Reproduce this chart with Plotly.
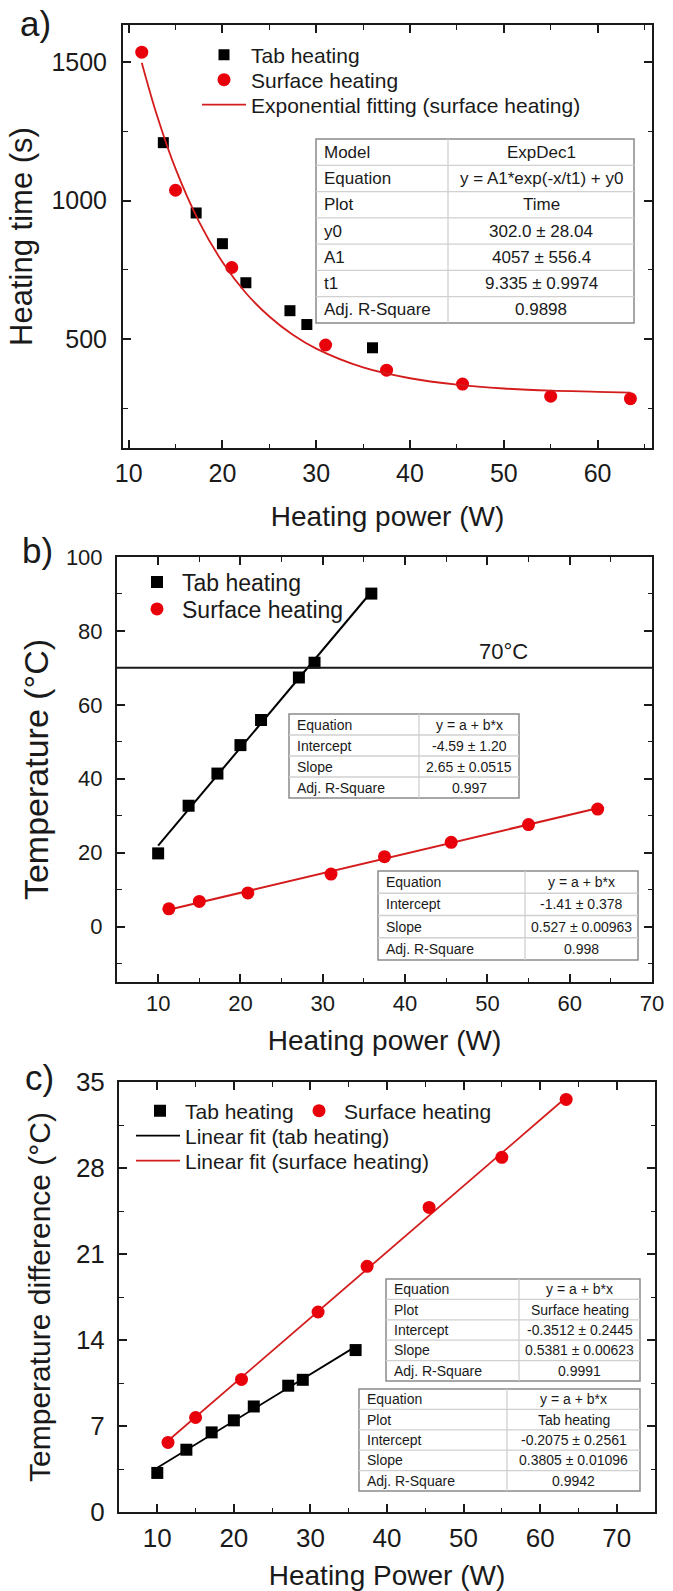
import plotly.graph_objects as go

W, H = 673, 1591
FONT = "Liberation Sans, Arial, sans-serif"
INK = "#1a1a1a"
RED = "#e8000b"
RED_LINE = "#d41c1c"

# ---------------- data ----------------
# panel a: heating time vs heating power
a_tab_power = [13.7, 17.2, 20.0, 22.5, 27.2, 29.0, 36.0]
a_tab_time = [1209, 955, 844, 703, 602, 552, 468]
a_surf_power = [11.4, 15.0, 21.0, 31.0, 37.5, 45.6, 55.0, 63.5]
a_surf_time = [1536, 1037, 758, 478, 387, 337, 293, 284]
a_fit_power = [11.4, 13.0, 15.0, 17.5, 20.0, 22.5, 25.0, 27.5, 30.0, 35.0, 40.0, 45.0, 50.0, 55.0, 60.0, 63.5]
a_fit_time = [1498, 1310, 1115, 924, 778, 666, 581, 515, 465, 397, 358, 335, 321, 313, 309, 306]
a_table = [
    ["Model", "ExpDec1"],
    ["Equation", "y = A1*exp(-x/t1) + y0"],
    ["Plot", "Time"],
    ["y0", "302.0 ± 28.04"],
    ["A1", "4057 ± 556.4"],
    ["t1", "9.335 ± 0.9974"],
    ["Adj. R-Square", "0.9898"],
]

# panel b: temperature vs heating power
b_tab_power = [10.0, 13.7, 17.2, 20.0, 22.5, 27.1, 29.0, 35.9]
b_tab_temp = [19.8, 32.7, 41.4, 49.1, 55.9, 67.4, 71.4, 90.1]
b_surf_power = [11.3, 15.0, 20.9, 31.0, 37.5, 45.6, 55.0, 63.4]
b_surf_temp = [4.8, 6.8, 9.1, 14.2, 18.9, 22.8, 27.6, 31.8]
b_tab_fit_power = [10.0, 36.0]
b_tab_fit_temp = [21.9, 90.8]
b_surf_fit_power = [11.4, 63.5]
b_surf_fit_temp = [4.6, 32.1]
b_limit_temp = 70
b_limit_label = "70°C"
b_table_tab = [
    ["Equation", "y = a + b*x"],
    ["Intercept", "-4.59 ± 1.20"],
    ["Slope", "2.65 ± 0.0515"],
    ["Adj. R-Square", "0.997"],
]
b_table_surf = [
    ["Equation", "y = a + b*x"],
    ["Intercept", "-1.41 ± 0.378"],
    ["Slope", "0.527 ± 0.00963"],
    ["Adj. R-Square", "0.998"],
]

# panel c: temperature difference vs heating power
c_tab_power = [10.0, 13.8, 17.1, 20.0, 22.6, 27.1, 29.0, 35.9]
c_tab_diff = [3.18, 5.07, 6.48, 7.46, 8.59, 10.28, 10.76, 13.18]
c_surf_power = [11.4, 15.0, 21.0, 31.0, 37.4, 45.5, 55.0, 63.4]
c_surf_diff = [5.66, 7.69, 10.79, 16.28, 20.0, 24.79, 28.87, 33.58]
c_tab_fit_power = [10.0, 36.0]
c_tab_fit_diff = [3.6, 13.5]
c_surf_fit_power = [11.4, 63.5]
c_surf_fit_diff = [5.8, 33.8]
c_table_surf = [
    ["Equation", "y = a + b*x"],
    ["Plot", "Surface heating"],
    ["Intercept", "-0.3512 ± 0.2445"],
    ["Slope", "0.5381 ± 0.00623"],
    ["Adj. R-Square", "0.9991"],
]
c_table_tab = [
    ["Equation", "y = a + b*x"],
    ["Plot", "Tab heating"],
    ["Intercept", "-0.2075 ± 0.2561"],
    ["Slope", "0.3805 ± 0.01096"],
    ["Adj. R-Square", "0.9942"],
]


# ---------------- helpers ----------------
def px(x):
    return x / W


def py(y):
    return 1 - y / H


shapes = []
annotations = []


def add_table(rows, x0, x1, xdiv, y0, y1, fs, pad=6):
    n = len(rows)
    rh = (y1 - y0) / n
    shapes.append(dict(type="rect", xref="paper", yref="paper",
                       x0=px(x0), x1=px(x1), y0=py(y1), y1=py(y0),
                       fillcolor="white", line=dict(color="#8a8a8a", width=1.5)))
    for i in range(1, n):
        yy = y0 + i * rh
        shapes.append(dict(type="line", xref="paper", yref="paper",
                           x0=px(x0), x1=px(x1), y0=py(yy), y1=py(yy),
                           line=dict(color="#d0d0d0", width=1.3)))
    shapes.append(dict(type="line", xref="paper", yref="paper",
                       x0=px(xdiv), x1=px(xdiv), y0=py(y0), y1=py(y1),
                       line=dict(color="#d0d0d0", width=1.3)))
    for i, (left, right) in enumerate(rows):
        yc = y0 + (i + 0.5) * rh
        annotations.append(dict(text=left, xref="paper", yref="paper",
                                x=px(x0 + pad), y=py(yc), xanchor="left", yanchor="middle",
                                showarrow=False, font=dict(size=fs, color=INK, family=FONT)))
        annotations.append(dict(text=right, xref="paper", yref="paper",
                                x=px((xdiv + x1) / 2), y=py(yc), xanchor="center", yanchor="middle",
                                showarrow=False, font=dict(size=fs, color=INK, family=FONT)))


def axis_style(tfs, dtick, minor_dtick, rng, domain, anchor, title, tsize, standoff, lab_off=2):
    return dict(
        range=rng, domain=domain, anchor=anchor,
        showline=True, linewidth=2, linecolor=INK, mirror="ticks",
        ticks="inside", ticklen=8, tickwidth=1.6, tickcolor=INK,
        dtick=dtick, tick0=0, ticklabelstandoff=lab_off,
        minor=dict(ticks="inside", ticklen=4.5, tickwidth=1.4, tickcolor=INK, dtick=minor_dtick, tick0=0, showgrid=False),
        showgrid=False, zeroline=False, automargin=False,
        tickfont=dict(size=tfs, color=INK, family=FONT),
        title=dict(text=title, font=dict(size=tsize, color=INK, family=FONT), standoff=standoff),
    )


fig = go.Figure()

# ---- panel a ----
fig.add_trace(go.Scatter(x=a_tab_power, y=a_tab_time, mode="markers", marker=dict(symbol="square", size=11, color="black"),
                         name="Tab heating", xaxis="x", yaxis="y", legend="legend"))
fig.add_trace(go.Scatter(x=a_surf_power, y=a_surf_time, mode="markers", marker=dict(symbol="circle", size=13, color=RED),
                         name="Surface heating", xaxis="x", yaxis="y", legend="legend2"))
fig.add_trace(go.Scatter(x=a_fit_power, y=a_fit_time, mode="lines", line=dict(color=RED_LINE, width=1.8, shape="spline"),
                         name="Exponential fitting (surface heating)", xaxis="x", yaxis="y", legend="legend3"))

# ---- panel b ----
fig.add_trace(go.Scatter(x=b_tab_fit_power, y=b_tab_fit_temp, mode="lines", line=dict(color="black", width=2),
                         showlegend=False, xaxis="x2", yaxis="y2"))
fig.add_trace(go.Scatter(x=b_surf_fit_power, y=b_surf_fit_temp, mode="lines", line=dict(color=RED_LINE, width=2),
                         showlegend=False, xaxis="x2", yaxis="y2"))
fig.add_trace(go.Scatter(x=b_tab_power, y=b_tab_temp, mode="markers", marker=dict(symbol="square", size=12, color="black"),
                         name="Tab heating", xaxis="x2", yaxis="y2", legend="legend4"))
fig.add_trace(go.Scatter(x=b_surf_power, y=b_surf_temp, mode="markers", marker=dict(symbol="circle", size=13, color=RED),
                         name="Surface heating", xaxis="x2", yaxis="y2", legend="legend5"))

# ---- panel c ----
fig.add_trace(go.Scatter(x=c_tab_fit_power, y=c_tab_fit_diff, mode="lines", line=dict(color="black", width=1.8),
                         name="Linear fit (tab heating)", xaxis="x3", yaxis="y3", legend="legend8"))
fig.add_trace(go.Scatter(x=c_surf_fit_power, y=c_surf_fit_diff, mode="lines", line=dict(color=RED_LINE, width=1.8),
                         name="Linear fit (surface heating)", xaxis="x3", yaxis="y3", legend="legend9"))
fig.add_trace(go.Scatter(x=c_tab_power, y=c_tab_diff, mode="markers", marker=dict(symbol="square", size=12, color="black"),
                         name="Tab heating", xaxis="x3", yaxis="y3", legend="legend6"))
fig.add_trace(go.Scatter(x=c_surf_power, y=c_surf_diff, mode="markers", marker=dict(symbol="circle", size=13, color=RED),
                         name="Surface heating", xaxis="x3", yaxis="y3", legend="legend7"))

# 70 °C limit line in panel b
shapes.append(dict(type="line", xref="x2 domain", yref="y2", x0=0, x1=1, y0=b_limit_temp, y1=b_limit_temp,
                   line=dict(color=INK, width=2)))
annotations.append(dict(text=b_limit_label, xref="x2", yref="y2", x=52, y=b_limit_temp, yanchor="bottom",
                        yshift=2, showarrow=False, font=dict(size=22, color=INK, family=FONT)))

# tables
add_table(a_table, 316, 634, 448, 139, 323, 17)
add_table(b_table_tab, 289, 519, 419, 714, 798, 14)
add_table(b_table_surf, 378, 638, 525, 871, 960, 14)
add_table(c_table_surf, 386, 640, 519, 1279, 1381, 14)
add_table(c_table_tab, 359, 640, 507, 1389, 1491, 14)

# panel letters
for lab, x, y in [("a)", 35, 24), ("b)", 37, 551), ("c)", 39, 1077)]:
    annotations.append(dict(text=lab, xref="paper", yref="paper", x=px(x), y=py(y), xanchor="center", yanchor="middle",
                            showarrow=False, font=dict(size=35, color=INK, family=FONT)))


def leg(x, y, fs, iw=40):
    return dict(x=px(x), y=py(y), xanchor="left", yanchor="middle", bgcolor="rgba(0,0,0,0)",
                borderwidth=0, itemwidth=iw, font=dict(size=fs, color=INK, family=FONT))


fig.update_layout(
    width=W, height=H, margin=dict(l=0, r=0, t=0, b=0),
    paper_bgcolor="white", plot_bgcolor="white",
    font=dict(family=FONT, color=INK),
    xaxis=axis_style(25, 10, 5, [9.4, 65.8], [px(123), px(652)], "y", "Heating power (W)", 28, 20, 2),
    yaxis=axis_style(25, 500, 250, [106, 1634], [py(448), py(25)], "x", "Heating time (s)", 31, 10, 9),
    xaxis2=axis_style(22, 10, 5, [5, 70], [px(117), px(652)], "y2", "Heating power (W)", 28, 15, 1),
    yaxis2=axis_style(22, 20, 10, [-15, 100], [py(982), py(557)], "x2", "Temperature (°C)", 34, 7, 8),
    xaxis3=axis_style(26, 10, 5, [5, 75], [px(119), px(655)], "y3", "Heating Power (W)", 28, 16, 2),
    yaxis3=axis_style(26, 7, 3.5, [0, 35], [py(1512), py(1082)], "x3", "Temperature difference (°C)", 30, 16, 7),
    legend=leg(197, 55, 21, 44),
    legend2=leg(197, 80, 21, 44),
    legend3=leg(197, 105, 21, 44),
    legend4=leg(132, 582, 23),
    legend5=leg(132, 609, 23),
    legend6=leg(135, 1111, 21),
    legend7=leg(294, 1111, 21),
    legend8=leg(131, 1136, 21, 44),
    legend9=leg(131, 1161, 21, 44),
    shapes=shapes, annotations=annotations,
)

fig.write_html("out.html", config={"displayModeBar": False},
               post_script="document.body.style.margin='0px';document.body.style.overflow='hidden';")
